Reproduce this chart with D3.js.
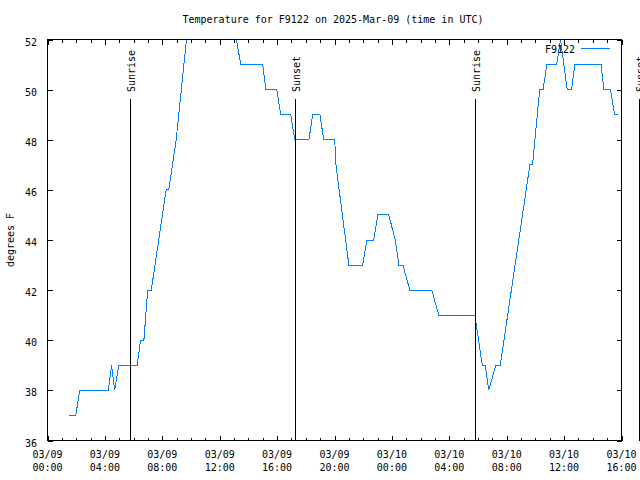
<!DOCTYPE html>
<html><head><meta charset="utf-8">
<script src="https://cdn.jsdelivr.net/npm/d3@7"></script>
<style>
body{margin:0;background:#fff;}
svg{display:block;font-family:"DejaVu Sans Mono",monospace;font-size:10px;}
</style></head><body><svg id="c" width="640" height="480"></svg>
<script>
const title = "Temperature for F9122 on 2025-Mar-09 (time in UTC)";
const yLabel = "degrees F";
const seriesName = "F9122";
const times = [
"2025-03-09T01:29","2025-03-09T01:58","2025-03-09T02:15","2025-03-09T04:14","2025-03-09T04:28",
"2025-03-09T04:41","2025-03-09T04:58","2025-03-09T06:15","2025-03-09T06:29","2025-03-09T06:43",
"2025-03-09T06:59","2025-03-09T07:14","2025-03-09T08:16","2025-03-09T08:27","2025-03-09T08:58",
"2025-03-09T09:41","2025-03-09T10:00","2025-03-09T11:00","2025-03-09T12:00","2025-03-09T12:50",
"2025-03-09T13:10","2025-03-09T13:28","2025-03-09T15:00","2025-03-09T15:13","2025-03-09T15:59",
"2025-03-09T16:15","2025-03-09T16:57","2025-03-09T17:14","2025-03-09T18:13","2025-03-09T18:29",
"2025-03-09T18:59","2025-03-09T19:15","2025-03-09T20:01","2025-03-09T20:06","2025-03-09T21:00",
"2025-03-09T21:58","2025-03-09T22:15","2025-03-09T22:44","2025-03-09T23:01","2025-03-09T23:47",
"2025-03-10T00:14","2025-03-10T00:29","2025-03-10T00:46","2025-03-10T01:15","2025-03-10T02:47",
"2025-03-10T03:16","2025-03-10T05:47","2025-03-10T06:18","2025-03-10T06:30","2025-03-10T06:45",
"2025-03-10T07:14","2025-03-10T07:33","2025-03-10T09:37","2025-03-10T09:48","2025-03-10T10:18",
"2025-03-10T10:32","2025-03-10T10:48","2025-03-10T11:29","2025-03-10T11:45","2025-03-10T12:13",
"2025-03-10T12:31","2025-03-10T12:45","2025-03-10T14:35","2025-03-10T14:46","2025-03-10T15:14",
"2025-03-10T15:31","2025-03-10T15:46"];
const temps = [
37,37,38,38,39, 38,39,39,40,40, 42,42,46,46,48, 52,53,54,54,53,
52,51,51,50,50, 49,49,48,48,49, 49,48,48,47,43, 43,44,44,45,45,
44,43,43,42,42, 41,41,39,39,38, 39,39,47,47,50, 50,51,51,52,50,
50,51,51,50,50, 49,49];
const sunLabels = ["Sunrise","Sunset","Sunrise","Sunset"];
const sunTimes = ["2025-03-09T05:47","2025-03-09T17:14","2025-03-10T05:47","2025-03-10T17:15"];
const yTicks = [36,38,40,42,44,46,48,50,52];
const xTickTimes = ["2025-03-09T00:00","2025-03-09T04:00","2025-03-09T08:00","2025-03-09T12:00",
"2025-03-09T16:00","2025-03-09T20:00","2025-03-10T00:00","2025-03-10T04:00","2025-03-10T08:00",
"2025-03-10T12:00","2025-03-10T16:00"];
const xTickDates = ["03/09","03/09","03/09","03/09","03/09","03/09","03/10","03/10","03/10","03/10","03/10"];
const xTickHours = ["00:00","04:00","08:00","12:00","16:00","20:00","00:00","04:00","08:00","12:00","16:00"];

const parse = d3.utcParse("%Y-%m-%dT%H:%M");
const L = 47.5, R = 621.5, T = 39.5, B = 440.5;
const x = d3.scaleUtc().domain([parse(xTickTimes[0]), parse(xTickTimes[xTickTimes.length-1])]).range([L, R]);
const y = d3.scaleLinear().domain([36, 52]).range([B, T]);
const svg = d3.select("#c");
svg.append("rect").attr("width",640).attr("height",480).attr("fill","#fff");

const defs = svg.append("defs");
defs.append("clipPath").attr("id","clip").append("rect")
  .attr("x",L).attr("y",T).attr("width",R-L).attr("height",B-T);

// data line
const data = times.map((t,i)=>({t:parse(t), v:temps[i]}));
svg.append("path").datum(data)
  .attr("clip-path","url(#clip)")
  .attr("fill","none").attr("stroke","#0080ff").attr("stroke-width",1)
  .attr("shape-rendering","crispEdges")
  .attr("d", d3.line().x(d=>x(d.t)).y(d=>y(d.v)));

// axes ticks (inward)
const major = xTickTimes.map(parse);
const minor = d3.utcHour.every(1).range(major[0], d3.utcHour.offset(major[major.length-1],1));
function tickAxis(gen, tx, ty){
  const g = svg.append("g").attr("transform",`translate(${tx},${ty})`).call(gen);
  g.select(".domain").remove();
  g.selectAll("line").attr("stroke","#000").attr("shape-rendering","crispEdges");
  g.selectAll("text").remove();
}
tickAxis(d3.axisBottom(x).tickValues(minor).tickSize(-3).tickFormat(""),0,B);
tickAxis(d3.axisTop(x).tickValues(minor).tickSize(-3).tickFormat(""),0,T);
tickAxis(d3.axisBottom(x).tickValues(major).tickSize(-5).tickFormat(""),0,B);
tickAxis(d3.axisTop(x).tickValues(major).tickSize(-5).tickFormat(""),0,T);
tickAxis(d3.axisLeft(y).tickValues(yTicks).tickSize(-5).tickFormat(""),L,0);
tickAxis(d3.axisRight(y).tickValues(yTicks).tickSize(-5).tickFormat(""),R,0);

// border
svg.append("rect").attr("x",L).attr("y",T).attr("width",R-L).attr("height",B-T)
  .attr("fill","none").attr("stroke","#000").attr("shape-rendering","crispEdges");

// y labels
svg.append("g").selectAll("text").data(yTicks).join("text")
  .attr("x",37).attr("y",d=>y(d)+6).attr("text-anchor","end").text(d=>d);

// x labels
const xl = svg.append("g").selectAll("text").data(major).join("text")
  .attr("text-anchor","middle");
xl.append("tspan").attr("x",d=>x(d)).attr("y",458).text((d,i)=>xTickDates[i]);
xl.append("tspan").attr("x",d=>x(d)).attr("y",471).text((d,i)=>xTickHours[i]);

// sun lines
const sun = sunTimes.map((t,i)=>({t:parse(t), label:sunLabels[i]}));
svg.append("g").selectAll("line").data(sun).join("line")
  .attr("x1",d=>Math.round(x(d.t))+0.5).attr("x2",d=>Math.round(x(d.t))+0.5)
  .attr("y1",99).attr("y2",B).attr("stroke","#000").attr("shape-rendering","crispEdges");
svg.append("g").selectAll("text").data(sun).join("text")
  .attr("transform",d=>`translate(${Math.round(x(d.t))+5},92) rotate(-90)`)
  .attr("text-anchor","start").text(d=>d.label);

// title
svg.append("text").attr("x",333).attr("y",23).attr("text-anchor","middle").text(title);
// y axis label
svg.append("text").attr("transform","translate(14,240) rotate(-90)")
  .attr("text-anchor","middle").text(yLabel);

// legend
svg.append("text").attr("x",575).attr("y",53).attr("text-anchor","end").text(seriesName);
svg.append("line").attr("x1",581).attr("x2",610).attr("y1",48.5).attr("y2",48.5)
  .attr("stroke","#0080ff").attr("shape-rendering","crispEdges");
</script></body></html>
